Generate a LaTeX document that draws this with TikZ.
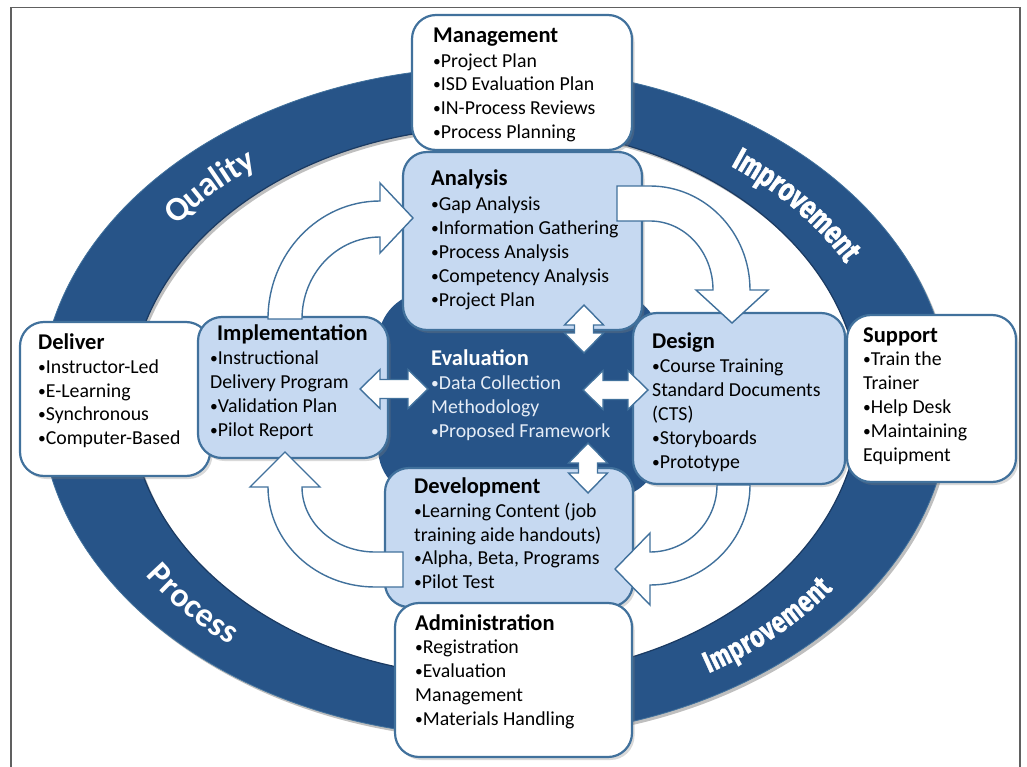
\documentclass[tikz,border=0pt]{standalone}
\usepackage{fontspec}
\setmainfont{Carlito}
\newfontfamily\heavyfont[FakeStretch=0.80,FakeBold=1.2]{Fira Sans}
\usetikzlibrary{shadows,decorations.text}

\definecolor{ringblue}{RGB}{39,84,136}
\definecolor{ringedge}{RGB}{26,58,98}
\definecolor{edgeblue}{RGB}{65,113,156}
\definecolor{paleblue}{RGB}{198,217,241}
\definecolor{evaltext}{RGB}{230,237,247}
\definecolor{framegray}{RGB}{96,96,96}

\newcommand{\boxtitle}[1]{{\fontsize{22.5}{23.8}\selectfont\bfseries #1}}
\newcommand{\bodylines}[1]{\begin{tabular}[t]{@{}l@{}}#1\end{tabular}}
\newcommand{\bul}{\raisebox{1pt}{\fontsize{15.5}{15.5}\selectfont•}}

\tikzset{
  panel/.style={draw=edgeblue, line width=2.2pt, rounded corners=24pt, inner sep=0pt,
    drop shadow={shadow xshift=2.5pt, shadow yshift=-3pt, opacity=0.3}},
  whitepanel/.style={panel, fill=white},
  palepanel/.style={panel, fill=paleblue},
  boxtext/.style={anchor=base west, inner sep=0pt, text=black,
    font=\fontsize{19.8}{23.8}\selectfont},
  blockarrow/.style={draw=edgeblue, line width=1.4pt, fill=white, line join=miter},
  ringword/.style 2 args={decorate, decoration={text along path, text align=center,
    raise=#1, text color=white, text={#2}}},
  dblarrow/.pic={
    \path[blockarrow] ({-#1/2},0) -- ({-#1/2+20},-19.5) -- ({-#1/2+20},-9.5)
      -- ({#1/2-20},-9.5) -- ({#1/2-20},-19.5) -- ({#1/2},0)
      -- ({#1/2-20},19.5) -- ({#1/2-20},9.5) -- ({-#1/2+20},9.5)
      -- ({-#1/2+20},19.5) -- cycle;
  }
}

\begin{document}
\begin{tikzpicture}[x=1pt, y=-1pt]
\useasboundingbox (0,0) rectangle (1027,767);

% outer frame
\draw[framegray, line width=1.2pt] (11,767) -- (11,7.5) -- (1020,7.5) -- (1020,767);

% the elliptical ring with its soft shadow
\fill[black, opacity=0.25, even odd rule]
  (497.5,405) ellipse[x radius=455, y radius=335]
  (497.5,405) ellipse[x radius=365, y radius=275];
\fill[ringblue, even odd rule]
  (495,402) ellipse[x radius=455, y radius=335]
  (495,402) ellipse[x radius=365, y radius=275];
\draw[ringedge, line width=1.2pt] (495,402) ellipse[x radius=365, y radius=275];
\draw[edgeblue, line width=0.8pt] (495,402) ellipse[x radius=455, y radius=335];

% words along the ring
\path[ringword={-11pt}{|\bfseries\fontsize{34}{34}\selectfont|Quality}]
  (495,402) ++(193.5:410 and 305) arc[start angle=193.5, end angle=253.5, x radius=410, y radius=305];
\path[ringword={-12pt}{|\heavyfont\bfseries\fontsize{32}{32}\selectfont|Improvement}]
  (495,402) ++(290.5:410 and 305) arc[start angle=290.5, end angle=350.5, x radius=410, y radius=305];
\path[ringword={-9pt}{|\bfseries\fontsize{34}{34}\selectfont|Process}]
  (495,402) ++(170:410 and 305) arc[start angle=170, end angle=110, x radius=410, y radius=305];
\path[ringword={-10pt}{|\heavyfont\bfseries\fontsize{30}{30}\selectfont|Improvement}]
  (495,402) ++(76:410 and 305) arc[start angle=76, end angle=16, x radius=410, y radius=305];

% dark evaluation field in the middle
\node[fill=ringblue, rounded corners=50pt, minimum width=282pt, minimum height=206pt,
  inner sep=0pt] (evalbg) at (519,395) {};

% boxes
\node[whitepanel, minimum width=220pt, minimum height=135pt] (mgmt) at (522,82.5) {};
\node[palepanel, minimum width=239pt, minimum height=178pt] (analysis) at (522.5,241) {};
\node[palepanel, minimum width=212pt, minimum height=171pt] (design) at (739,398.5) {};
\node[whitepanel, minimum width=169pt, minimum height=167pt] (support) at (931.5,398.5) {};
\node[whitepanel, minimum width=190pt, minimum height=154pt] (deliver) at (115,399) {};
\node[palepanel, minimum width=190pt, minimum height=141pt] (impl) at (293,387.5) {};
\node[palepanel, minimum width=248pt, minimum height=139pt] (devel) at (509,537.5) {};
\node[whitepanel, minimum width=237pt, minimum height=154pt] (admin) at (513.5,680) {};

% curved block arrows of the cycle
\path[blockarrow] (268,319)
  arc[start angle=180, end angle=270, x radius=112, y radius=118]
  -- (380,183) -- (413,218) -- (380,253) -- (380,237)
  arc[start angle=270, end angle=180, x radius=78, y radius=82] -- cycle;
\path[blockarrow] (617,186) -- (650,186)
  arc[start angle=270, end angle=360, x radius=100, y radius=104]
  -- (768,290) -- (732,323) -- (696,290) -- (713,290)
  arc[start angle=0, end angle=-90, x radius=63, y radius=69] -- (617,221) -- cycle;
\path[blockarrow] (750,485)
  arc[start angle=0, end angle=90, x radius=100, y radius=100]
  -- (650,605) -- (615,569) -- (650,533) -- (650,552)
  arc[start angle=90, end angle=0, x radius=67, y radius=67] -- cycle;
\path[blockarrow] (403,587) -- (375,587)
  arc[start angle=90, end angle=180, x radius=107, y radius=100]
  -- (250,487) -- (285,452) -- (320,487) -- (302,487)
  arc[start angle=180, end angle=90, x radius=73, y radius=65] -- (403,552) -- cycle;

% two-way arrows to and from evaluation
\pic[rotate=90] at (584,329) {dblarrow=48};
\pic[rotate=90] at (588,468) {dblarrow=50};
\pic at (394,389) {dblarrow=68};
\pic at (615.5,390) {dblarrow=65};

% texts
\node[boxtext] (mgmt-t) at (433,43) {\bodylines{\boxtitle{Management}\\[0.4pt]
  \bul Project Plan\\ \bul ISD Evaluation Plan\\ \bul IN-Process Reviews\\ \bul Process Planning}};
\node[boxtext] (analysis-t) at (431,186) {\bodylines{\boxtitle{Analysis}\\[1pt]
  \bul Gap Analysis\\ \bul Information Gathering\\ \bul Process Analysis\\ \bul Competency Analysis\\ \bul Project Plan}};
\node[boxtext] (impl-t) at (210,340) {\bodylines{\hspace*{7pt}\boxtitle{Implementation}\\[1pt]
  \bul Instructional\\ Delivery Program\\ \bul Validation Plan\\ \bul Pilot Report}};
\node[boxtext] (deliver-t) at (38,349) {\bodylines{\boxtitle{Deliver}\\[0.4pt]
  \bul Instructor-Led\\ \bul E-Learning\\ \bul Synchronous\\ \bul Computer-Based}};
\node[boxtext] (design-t) at (652,348) {\bodylines{\boxtitle{Design}\\[1pt]
  \bul Course Training\\ Standard Documents\\ (CTS)\\ \bul Storyboards\\ \bul Prototype}};
\node[boxtext] (support-t) at (863,342) {\bodylines{\boxtitle{Support}\\
  \bul Train the\\ Trainer\\ \bul Help Desk\\ \bul Maintaining\\ Equipment}};
\node[boxtext] (devel-t) at (414,493) {\bodylines{\boxtitle{Development}\\[0.4pt]
  \bul Learning Content (job\\ training aide handouts)\\ \bul Alpha, Beta, Programs\\ \bul Pilot Test}};
\node[boxtext] (admin-t) at (415,630) {\bodylines{\boxtitle{Administration}\\
  \bul Registration\\ \bul Evaluation\\ Management\\ \bul Materials Handling}};
\node[boxtext, text=evaltext] (eval-t) at (431,365) {\bodylines{\textcolor{white}{\boxtitle{Evaluation}}\\[1pt]
  \bul Data Collection\\ Methodology\\ \bul Proposed Framework}};
\end{tikzpicture}
\end{document}
